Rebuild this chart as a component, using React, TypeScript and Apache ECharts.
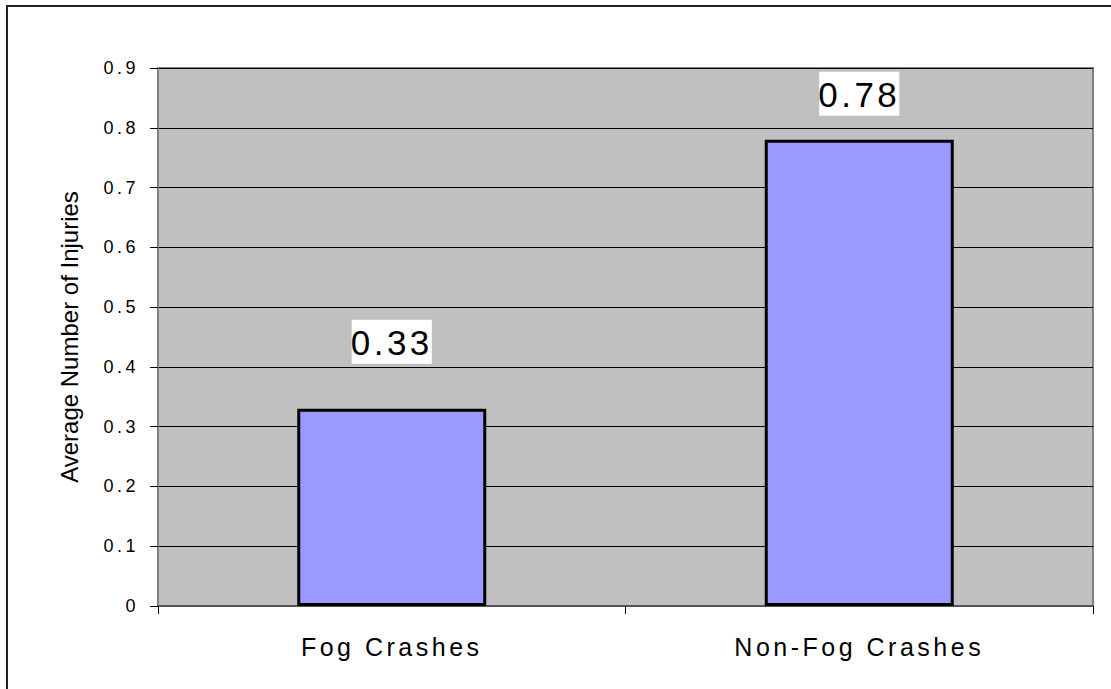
import React, { useEffect, useRef } from "react";
import * as echarts from "echarts";

const categories = ["Fog Crashes", "Non-Fog Crashes"];
const values = [0.33, 0.78];
const labelGaps = [45, 24];
const yAxisName = "Average Number of Injuries";
const yMin = 0;
const yMax = 0.9;
const yStep = 0.1;

const FONT = "'Liberation Sans', Arial, Helvetica, sans-serif";

export default function App() {
  const ref = useRef<HTMLDivElement>(null);

  useEffect(() => {
    if (!ref.current) return;
    const chart = echarts.init(ref.current, undefined, { renderer: "svg" });
    chart.setOption({
      animation: false,
      backgroundColor: "#ffffff",
      textStyle: { fontFamily: FONT, color: "#000" },
      graphic: [
        {
          type: "rect",
          shape: { x: 7, y: 6, width: 1110, height: 700 },
          style: { fill: "none", stroke: "#222", lineWidth: 2 },
          silent: true,
        },
      ],
      grid: {
        left: 158,
        right: 18,
        top: 68,
        bottom: 83,
        show: true,
        backgroundColor: "#C0C0C0",
        borderColor: "#808080",
        borderWidth: 2,
      },
      xAxis: {
        type: "category",
        data: categories,
        boundaryGap: true,
        axisLine: { show: true, lineStyle: { color: "#555", width: 2 } },
        axisTick: { show: true, length: 8, alignWithLabel: false, lineStyle: { color: "#000", width: 1 } },
        axisLabel: { fontSize: 25, color: "#000", margin: 28, fontFamily: FONT },
        splitLine: { show: false },
      },
      yAxis: {
        type: "value",
        min: yMin,
        max: yMax,
        interval: yStep,
        name: yAxisName,
        nameLocation: "middle",
        nameGap: 77,
        nameTextStyle: { fontSize: 24, color: "#000", fontFamily: FONT },
        axisLine: { show: true, lineStyle: { color: "#808080", width: 2 } },
        axisTick: { show: true, length: 8, inside: false, lineStyle: { color: "#000", width: 1 } },
        axisLabel: {
          fontSize: 18,
          color: "#000",
          margin: 19,
          fontFamily: FONT,
          formatter: (v: number) => (v === 0 ? "0" : v.toFixed(1)),
        },
        splitLine: { show: true, lineStyle: { color: "#000", width: 1 } },
      },
      series: [
        {
          type: "bar",
          barWidth: 189,
          data: values.map((v, i) => ({
            value: v,
            label: { distance: labelGaps[i] },
          })),
          itemStyle: { color: "#9999FF", borderColor: "#000", borderWidth: 3 },
          label: {
            show: true,
            position: "top",
            fontSize: 35,
            color: "#000",
            fontFamily: FONT,
            backgroundColor: "#ffffff",
            padding: [5, 6, 4, 6],
            formatter: (p: any) => String(p.value),
          },
        },
      ],
    });
    return () => chart.dispose();
  }, []);

  return (
    <>
      <style>{`
        .chart-box svg text { letter-spacing: 3.5px; }
        .chart-box svg text[transform^="matrix(0"] { letter-spacing: 0px; }
      `}</style>
      <div
        ref={ref}
        className="chart-box"
        style={{ position: "absolute", left: 0, top: 0, width: 1111, height: 689, background: "#fff" }}
      />
    </>
  );
}
